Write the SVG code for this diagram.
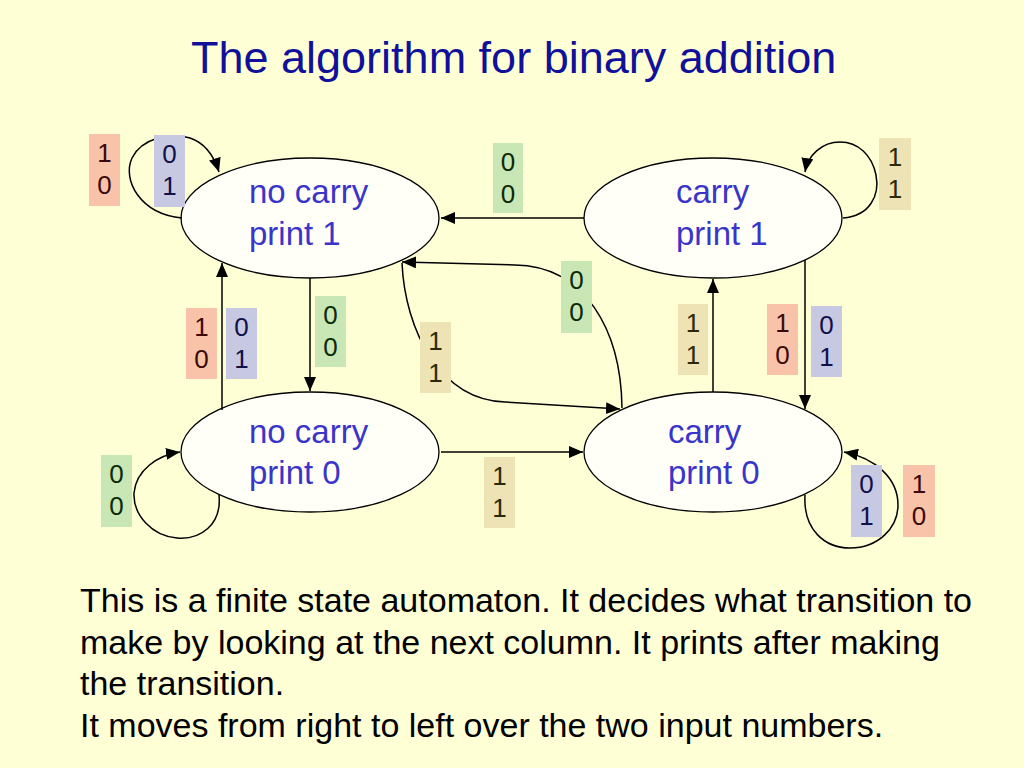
<svg xmlns="http://www.w3.org/2000/svg" width="1024" height="768" viewBox="0 0 1024 768">
<style>
.bg{fill:#FFFFD6}
.title{font-family:"Liberation Sans",Arial,sans-serif;font-size:45px;fill:#10109A}
.node ellipse{fill:#FFFFF8;stroke:#000;stroke-width:1.3}
.node text{font-family:"Liberation Sans",Arial,sans-serif;font-size:33px;fill:#3A35C8}
.conn path{fill:none;stroke:#000;stroke-width:1.5;marker-end:url(#arr)}
.lbl text{font-family:"Liberation Sans",Arial,sans-serif;font-size:26px;text-anchor:middle}
.s rect{fill:#F9C3A9}.s text{fill:#3A0A0A}
.v rect{fill:#C7C9E2}.v text{fill:#10104A}
.g rect{fill:#C9E6B5}.g text{fill:#0A2A0A}
.t rect{fill:#EEE3B4}.t text{fill:#2A2A0A}
.body{font-family:"Liberation Sans",Arial,sans-serif;font-size:34px;fill:#000}
</style>
<defs>
<marker id="arr" markerUnits="userSpaceOnUse" markerWidth="14" markerHeight="12" refX="14" refY="6" orient="auto">
<path d="M0,0 L14,6 L0,12 z" fill="#000"/>
</marker>
</defs>
<rect class="bg" x="0" y="0" width="1024" height="768"/>
<text class="title" x="191" y="73">The algorithm for binary addition</text>

<g id="n_nc1" class="node">
<ellipse cx="310" cy="218" rx="129" ry="60"/>
<text x="249" y="203">no carry</text>
<text x="249" y="245">print 1</text>
</g>
<g id="n_c1" class="node">
<ellipse cx="713" cy="218" rx="129" ry="60"/>
<text x="676" y="203">carry</text>
<text x="676" y="245">print 1</text>
</g>
<g id="n_nc0" class="node">
<ellipse cx="310" cy="452" rx="129" ry="60"/>
<text x="249" y="443">no carry</text>
<text x="249" y="484">print 0</text>
</g>
<g id="n_c0" class="node">
<ellipse cx="713" cy="452" rx="129" ry="60"/>
<text x="668" y="443">carry</text>
<text x="668" y="484">print 0</text>
</g>

<g id="connectors" class="conn">
<path d="M182,218 C140,214 122,180 132,158 C142,138 170,132 190,138 C205,143 214,156 219,172"/>
<path d="M843,218 C870,216 880,195 876,175 C872,155 858,142 840,142 C822,142 808,155 805,172"/>
<path d="M584,218 L441,218"/>
<path d="M310,278 L310,391"/>
<path d="M222,410 L222,263"/>
<path d="M441,452 L583,452"/>
<path d="M713,392 L713,279"/>
<path d="M805,260 L805,409"/>
<path d="M622,408 C621,330 585,266 515,265 L402,262"/>
<path d="M402,263 C405,330 440,400 505,402 L620,409"/>
<path d="M219,495 C222,525 200,540 177,538 C152,536 133,515 134,493 C136,470 158,455 180,452"/>
<path d="M805,495 C803,530 825,548 850,548 C878,548 898,528 898,505 C898,478 875,458 844,452"/>
</g>

<g id="labels" class="lbl">
<g class="s"><rect x="89" y="134" width="31" height="72"/><text x="104.5" y="162">1</text><text x="104.5" y="194">0</text></g>
<g class="v"><rect x="154" y="135" width="31" height="72"/><text x="169.5" y="163">0</text><text x="169.5" y="195">1</text></g>
<g class="g"><rect x="493" y="143" width="30" height="70"/><text x="508" y="171">0</text><text x="508" y="203">0</text></g>
<g class="t"><rect x="879" y="138" width="32" height="72"/><text x="895" y="166">1</text><text x="895" y="198">1</text></g>
<g class="s"><rect x="186" y="308" width="31" height="71"/><text x="201.5" y="336">1</text><text x="201.5" y="368">0</text></g>
<g class="v"><rect x="226" y="308" width="31" height="71"/><text x="241.5" y="336">0</text><text x="241.5" y="368">1</text></g>
<g class="g"><rect x="315" y="296" width="31" height="71"/><text x="330.5" y="324">0</text><text x="330.5" y="356">0</text></g>
<g class="t"><rect x="420" y="322" width="31" height="71"/><text x="435.5" y="350">1</text><text x="435.5" y="382">1</text></g>
<g class="g"><rect x="101" y="455" width="31" height="72"/><text x="116.5" y="483">0</text><text x="116.5" y="515">0</text></g>
<g class="g"><rect x="561" y="261" width="31" height="72"/><text x="576.5" y="289">0</text><text x="576.5" y="321">0</text></g>
<g class="t"><rect x="678" y="304" width="30" height="71"/><text x="693" y="332">1</text><text x="693" y="364">1</text></g>
<g class="s"><rect x="767" y="304" width="31" height="71"/><text x="782.5" y="332">1</text><text x="782.5" y="364">0</text></g>
<g class="v"><rect x="811" y="306" width="31" height="71"/><text x="826.5" y="334">0</text><text x="826.5" y="366">1</text></g>
<g class="t"><rect x="484" y="457" width="31" height="71"/><text x="499.5" y="485">1</text><text x="499.5" y="517">1</text></g>
<g class="v"><rect x="851" y="465" width="31" height="72"/><text x="866.5" y="493">0</text><text x="866.5" y="525">1</text></g>
<g class="s"><rect x="903" y="465" width="32" height="72"/><text x="919" y="493">1</text><text x="919" y="525">0</text></g>
</g>

<text class="body" x="80" y="612">This is a finite state automaton. It decides what transition to</text>
<text class="body" x="80" y="654">make by looking at the next column. It prints after making</text>
<text class="body" x="80" y="695">the transition.</text>
<text class="body" x="80" y="737">It moves from right to left over the two input numbers.</text>
</svg>
